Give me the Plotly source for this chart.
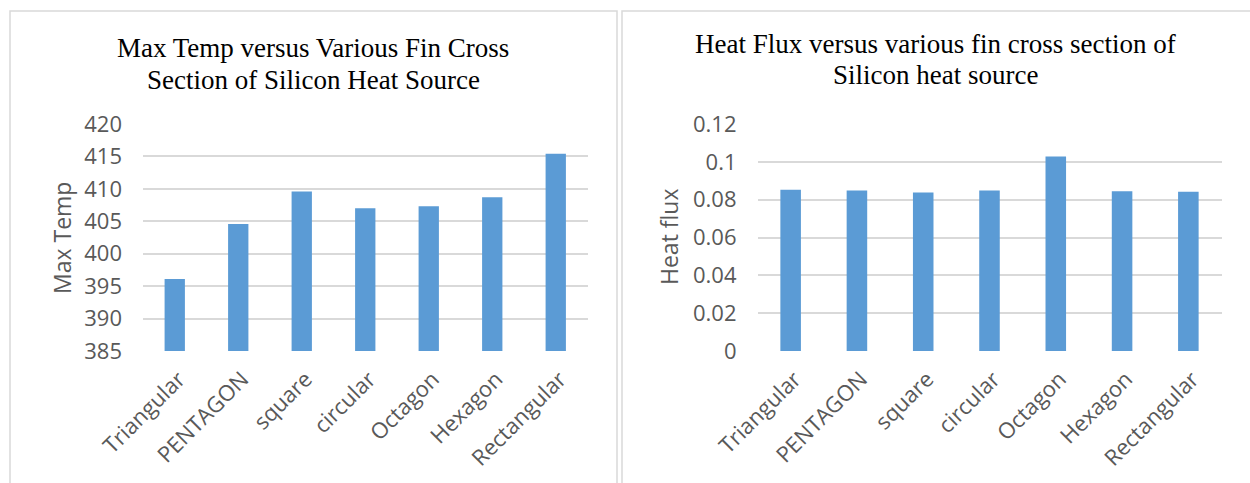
import plotly.graph_objects as go

categories = ["Triangular", "PENTAGON", "square", "circular", "Octagon", "Hexagon", "Rectangular"]
max_temp = [396.1, 404.6, 409.6, 407.0, 407.3, 408.7, 415.4]
heat_flux = [0.0853, 0.0849, 0.0838, 0.0849, 0.1028, 0.0845, 0.0842]
temp_ticks = [385, 390, 395, 400, 405, 410, 415, 420]
flux_ticks = [0, 0.02, 0.04, 0.06, 0.08, 0.1, 0.12]
flux_ticktext = ["0", "0.02", "0.04", "0.06", "0.08", "0.1", "0.12"]
left_title = ["Max Temp versus Various Fin Cross", "Section of Silicon Heat Source"]
right_title = ["Heat Flux versus various fin cross section of", "Silicon heat source"]

W, H = 1250, 483
BAR = "#5b9bd5"
GRID = "#d9d9d9"
TXT = "#595959"
ytick_font = dict(family="Open Sans", size=22, color=TXT)
xtick_font = dict(family="Open Sans", size=22, color=TXT)


def px_x(p):
    return p / W


def px_y(p):
    return 1 - p / H


fig = go.Figure()
fig.add_trace(go.Bar(x=categories, y=max_temp, width=0.32, marker=dict(color=BAR, line=dict(width=0)),
                     xaxis="x", yaxis="y", showlegend=False))
fig.add_trace(go.Bar(x=categories, y=heat_flux, width=0.31, marker=dict(color=BAR, line=dict(width=0)),
                     xaxis="x2", yaxis="y2", showlegend=False))

common_x = dict(type="category", showgrid=False, showline=False, ticks="", tickangle=-45,
                tickfont=xtick_font, fixedrange=True, automargin=False,
                ticklabelstandoff=10, ticklabelshift=4)
common_y = dict(showgrid=True, gridcolor=GRID, gridwidth=1.5, zeroline=False, showline=False,
                ticks="", tickfont=ytick_font, fixedrange=True, automargin=False,
                ticklabelstandoff=20)

fig.update_layout(
    width=W, height=H,
    margin=dict(l=0, r=0, t=0, b=0),
    paper_bgcolor="white", plot_bgcolor="white",
    xaxis=dict(domain=[px_x(143), px_x(587.5)], anchor="y", **common_x),
    yaxis=dict(domain=[px_y(351), px_y(124)], anchor="x", range=[385, 420],
               tickvals=temp_ticks, **common_y),
    xaxis2=dict(domain=[px_x(757.5), px_x(1221.5)], anchor="y2", **common_x),
    yaxis2=dict(domain=[px_y(351), px_y(124)], anchor="x2", range=[0, 0.12],
                tickvals=flux_ticks, ticktext=flux_ticktext, **common_y),
)

shapes = [
    dict(type="rect", xref="paper", yref="paper", x0=px_x(10), x1=px_x(617), y0=px_y(500), y1=px_y(11),
         line=dict(color=GRID, width=1.5), fillcolor="rgba(0,0,0,0)", layer="below"),
    dict(type="rect", xref="paper", yref="paper", x0=px_x(622), x1=px_x(1262), y0=px_y(500), y1=px_y(11),
         line=dict(color=GRID, width=1.5), fillcolor="rgba(0,0,0,0)", layer="below"),
]
fig.update_layout(shapes=shapes)

title_font = dict(family="Liberation Serif", size=27, color="#000000")
for text, yc in zip(left_title, [48, 80]):
    fig.add_annotation(text=text, xref="paper", yref="paper", x=px_x(313), y=px_y(yc),
                       xanchor="center", yanchor="middle", showarrow=False, font=title_font)
for text, yc in zip(right_title, [43.5, 75]):
    fig.add_annotation(text=text, xref="paper", yref="paper", x=px_x(935), y=px_y(yc),
                       xanchor="center", yanchor="middle", showarrow=False, font=title_font)

axis_title_font = dict(family="Open Sans", size=23, color=TXT)
fig.add_annotation(text="Max Temp", textangle=-90, xref="paper", yref="paper",
                   x=px_x(62), y=px_y(238), xanchor="center", yanchor="middle",
                   showarrow=False, font=axis_title_font)
fig.add_annotation(text="Heat flux", textangle=-90, xref="paper", yref="paper",
                   x=px_x(669), y=px_y(237), xanchor="center", yanchor="middle",
                   showarrow=False, font=axis_title_font)

fig.write_html("out.html")
